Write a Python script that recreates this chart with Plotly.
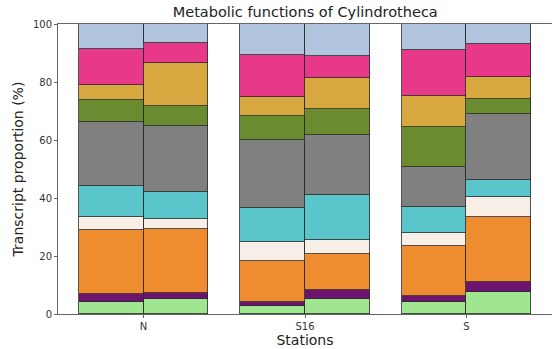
import plotly.graph_objects as go

stations = ["N", "S16", "S"]
functions = ["F1", "F2", "F3", "F4", "F5", "F6", "F7", "F8", "F9", "F10"]
colors = ["#a0e58f", "#6d1470", "#f08c30", "#f7efe5", "#5ac6cc",
          "#808080", "#6b8b30", "#d8a840", "#e8388a", "#b0c4de"]

# values per function, for bars: N-a, N-b, S16-a, S16-b, S-a, S-b
values = [
    [4.0, 5.2, 2.8, 5.2, 4.2, 7.7],
    [2.9, 1.9, 1.4, 3.1, 2.0, 3.2],
    [22.1, 22.2, 14.1, 12.3, 17.2, 22.7],
    [4.3, 3.3, 6.6, 4.9, 4.4, 6.6],
    [10.8, 9.6, 11.5, 15.5, 9.2, 6.0],
    [22.2, 22.6, 23.6, 20.7, 13.8, 22.8],
    [7.5, 6.9, 8.3, 8.9, 13.8, 5.1],
    [5.2, 14.7, 6.6, 10.7, 10.7, 7.7],
    [12.5, 6.9, 14.4, 7.8, 15.7, 11.2],
    [8.5, 6.7, 10.7, 10.9, 9.0, 7.0],
]

offsets = [-0.2, 0.2]
xpos = [i + o for i in range(len(stations)) for o in offsets]

fig = go.Figure()
for name, col, vals in zip(functions, colors, values):
    fig.add_trace(go.Bar(
        x=xpos, y=vals, width=0.4, name=name,
        marker=dict(color=col, line=dict(color="#2a2a2a", width=0.8)),
        showlegend=False,
    ))

fig.update_layout(
    barmode="stack",
    width=552, height=349,
    margin=dict(l=58, r=0, t=24, b=35),
    plot_bgcolor="white", paper_bgcolor="white",
    font=dict(family="DejaVu Sans", color="#222"),
    title=dict(text="Metabolic functions of Cylindrotheca", x=0.553, xanchor="center",
               y=1 - 12 / 349, yanchor="middle", font=dict(size=14.5, color="#222")),
    bargap=0,
)
fig.update_xaxes(
    range=[-0.53, 2.53], tickvals=[0, 1, 2], ticktext=stations,
    showline=True, linecolor="#666", linewidth=1, mirror=True,
    ticks="outside", ticklen=3, tickcolor="#666", tickfont=dict(size=10, color="#333"),
    showgrid=False, zeroline=False,
    title=dict(text="Stations", font=dict(size=14, color="#222"), standoff=2),
)
fig.update_yaxes(
    range=[0, 100], tickvals=[0, 20, 40, 60, 80, 100],
    showline=True, linecolor="#666", linewidth=1, mirror=False,
    ticks="outside", ticklen=3, tickcolor="#666", tickfont=dict(size=10, color="#333"),
    showgrid=False, zeroline=False,
    title=dict(text="Transcript proportion (%)", font=dict(size=14, color="#222"), standoff=6),
)

fig.write_html("out.html")
